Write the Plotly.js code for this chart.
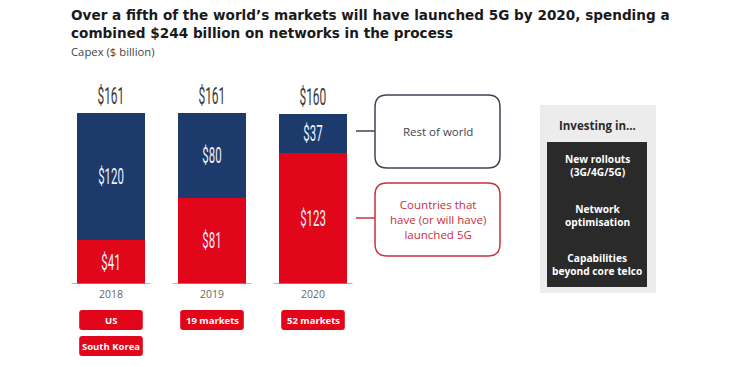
<!DOCTYPE html>
<html><head><meta charset="utf-8">
<script src="https://cdn.plot.ly/plotly-3.0.1.min.js"></script>
<style>body{margin:0;background:#fff}</style></head>
<body><div id="chart" style="width:750px;height:367px"></div>
<script>
const years = ['2018', '2019', '2020'];
const launched = [41, 81, 123];
const restOfWorld = [120, 80, 37];
const totals = [161, 161, 160];
const markets = [['US', 'South Korea'], ['19 markets'], ['52 markets']];
const legendLabels = ['Rest of world', 'Countries that<br>have (or will have)<br>launched 5G'];
const investingTitle = 'Investing in...';
const investingItems = ['New rollouts<br>(3G/4G/5G)', 'Network<br>optimisation', 'Capabilities<br>beyond core telco'];

const W = 750, H = 367;
const X = p => p / W, Y = p => 1 - p / H;
const RED = '#e2061b', BLUE = '#1c3a6c';
const NUMF = 'Roboto, sans-serif';
const SANS = '"Open Sans", Roboto, Arial, sans-serif';
const WIDE = '"DejaVu Sans", Verdana, sans-serif';

function rr(x0, x1, y0, y1, rx, ry) {
  return `M${x0+rx},${y0} L${x1-rx},${y0} Q${x1},${y0} ${x1},${y0+ry} L${x1},${y1-ry} Q${x1},${y1} ${x1-rx},${y1} L${x0+rx},${y1} Q${x0},${y1} ${x0},${y1-ry} L${x0},${y0+ry} Q${x0},${y0} ${x0+rx},${y0} Z`;
}

const inside = {
  type: 'bar', x: years, textposition: 'inside', insidetextanchor: 'middle',
  texttemplate: '$%{y}', textfont: {family: NUMF, size: 22, color: '#eef2fa'},
  hoverinfo: 'x+y', showlegend: false, constraintext: 'none'
};
const traces = [
  Object.assign({}, inside, {y: launched, name: 'Launched 5G', marker: {color: RED}}),
  Object.assign({}, inside, {y: restOfWorld, name: 'Rest of world', marker: {color: BLUE}})
];

const annotations = [];
const shapes = [];

years.forEach((yr, i) => {
  annotations.push({x: i, y: totals[i], xref: 'x', yref: 'y', text: '$' + totals[i],
    showarrow: false, xanchor: 'center', yanchor: 'bottom', yshift: 1,
    font: {family: NUMF, size: 23, color: '#3a3a3a'}});
  shapes.push({type: 'line', xref: 'x', yref: 'y', x0: i - 0.39, x1: i + 0.39, y0: 0, y1: 0,
    line: {color: '#9a9a9a', width: 1.5}});
  markets[i].forEach((m, j) => {
    const cy = 320 + j * 26;
    shapes.push({type: 'path', xref: 'x', yref: 'paper',
      path: rr(i - 0.315, i + 0.315, Y(cy + 10), Y(cy - 10), 0.03, 3 / H),
      fillcolor: RED, line: {width: 0}});
    annotations.push({x: i, xref: 'x', y: Y(cy), yref: 'paper', text: '<b>' + m + '</b>',
      xanchor: 'center', yanchor: 'middle',
      showarrow: false, font: {family: SANS, size: 9.5, color: '#fff'}});
  });
});

const legCol = ['#3c4654', '#c8303c'];
const legBox = [[95, 168], [183, 256]];
const legLineY = [131, 218];
legendLabels.forEach((t, k) => {
  shapes.push({type: 'path', xref: 'paper', yref: 'paper',
    path: rr(X(375), X(500), Y(legBox[k][1]), Y(legBox[k][0]), 12 / W, 12 / H),
    line: {color: legCol[k], width: 1.5}, fillcolor: 'rgba(0,0,0,0)'});
  shapes.push({type: 'line', xref: 'paper', yref: 'paper', x0: X(356), x1: X(375),
    y0: Y(legLineY[k]), y1: Y(legLineY[k]), line: {color: legCol[k], width: 1.5}});
  annotations.push({x: X(437.5), y: Y((legBox[k][0] + legBox[k][1]) / 2), xref: 'paper', yref: 'paper',
    xanchor: 'center', yanchor: 'middle',
    text: t, showarrow: false, font: {family: SANS, size: 11.5, color: legCol[k]}});
});

shapes.push({type: 'rect', xref: 'paper', yref: 'paper', x0: X(540), x1: X(656), y0: Y(293), y1: Y(105),
  fillcolor: '#ececec', line: {width: 0}, layer: 'below'});
shapes.push({type: 'rect', xref: 'paper', yref: 'paper', x0: X(547), x1: X(647), y0: Y(287), y1: Y(142),
  fillcolor: '#2a2a2a', line: {width: 0}});
annotations.push({x: X(597), y: Y(125), xref: 'paper', yref: 'paper', text: '<b>' + investingTitle + '</b>',
  xanchor: 'center', yanchor: 'middle',
  showarrow: false, font: {family: SANS, size: 11.5, color: '#2a2a2a'}});
const itemY = [165, 215, 264];
investingItems.forEach((t, k) => {
  annotations.push({x: X(597), y: Y(itemY[k]), xref: 'paper', yref: 'paper', text: '<b>' + t + '</b>',
    xanchor: 'center', yanchor: 'middle',
    showarrow: false, font: {family: SANS, size: 10.2, color: '#fff'}});
});

annotations.push({x: X(69), y: Y(5), xref: 'paper', yref: 'paper', xanchor: 'left', yanchor: 'top', align: 'left',
  text: '<b>Over a fifth of the world\u2019s markets will have launched 5G by 2020, spending a<br>combined $244 billion on networks in the process</b>',
  showarrow: false, font: {family: WIDE, size: 13.6, color: '#1a1a1a'}});
annotations.push({x: X(69), y: Y(52), xref: 'paper', yref: 'paper', xanchor: 'left', yanchor: 'middle',
  text: 'Capex ($ billion)', showarrow: false, font: {family: SANS, size: 11.3, color: '#444'}});

const layout = {
  width: W, height: H, margin: {l: 0, r: 0, t: 0, b: 0},
  paper_bgcolor: '#fff', plot_bgcolor: '#fff',
  barmode: 'stack', bargap: 0.327,
  xaxis: {type: 'category', domain: [60.5 / W, 363.5 / W], range: [-0.5, 2.5],
    showgrid: false, zeroline: false, showline: false, ticks: '', ticklabelstandoff: 2,
    tickfont: {family: SANS, size: 10.5, color: '#666'}, fixedrange: true},
  yaxis: {domain: [Y(284), Y(60)], range: [0, 210.9], visible: false, fixedrange: true},
  shapes: shapes, annotations: annotations
};

function condense(el) {
  const x = parseFloat(el.getAttribute('x') || 0), y = parseFloat(el.getAttribute('y') || 0);
  const t = el.getAttribute('transform') || '';
  el.setAttribute('transform', t + ` translate(${x},${y}) scale(0.52,1) translate(${-x},${-y})`);
}
Plotly.newPlot('chart', traces, layout, {displayModeBar: false, staticPlot: true}).then(gd => {
  gd.querySelectorAll('text.bartext').forEach(condense);
  gd.querySelectorAll('.annotation').forEach(a => {
    const txt = a.querySelector('text.annotation-text');
    if (txt && /^\$\d+$/.test(txt.textContent)) condense(txt);
  });
});
</script></body></html>
